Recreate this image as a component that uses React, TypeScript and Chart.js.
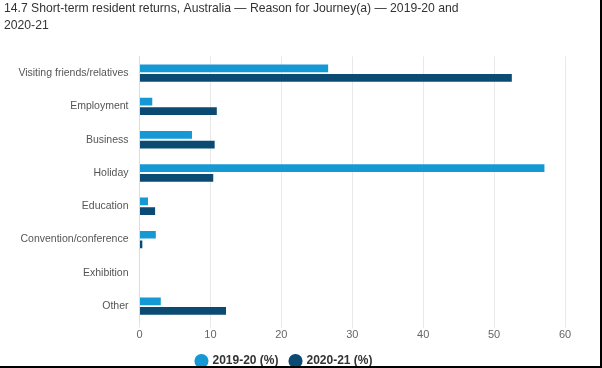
import React, { useEffect, useRef } from "react";
import { Chart, registerables } from "chart.js";

Chart.register(...registerables);

const categories = [
  "Visiting friends/relatives",
  "Employment",
  "Business",
  "Holiday",
  "Education",
  "Convention/conference",
  "Exhibition",
  "Other",
];
const series2019 = [26.6, 1.8, 7.4, 57.1, 1.2, 2.3, 0, 3.0];
const series2020 = [52.5, 10.9, 10.6, 10.4, 2.2, 0.4, 0, 12.2];
const seriesLabels = ["2019-20 (%)", "2020-21 (%)"];
const titleLines = [
  "14.7 Short-term resident returns, Australia \u2014 Reason for Journey(a) \u2014 2019-20 and",
  "2020-21",
];

const FONT = "'Liberation Sans', Arial, Helvetica, sans-serif";

export default function App() {
  const ref = useRef<HTMLCanvasElement | null>(null);
  useEffect(() => {
    document.body.style.margin = "0";
    const ctx = ref.current!;
    const chart = new Chart(ctx, {
      type: "bar",
      data: {
        labels: categories,
        datasets: [
          {
            label: seriesLabels[0],
            data: series2019,
            backgroundColor: "#1599d4",
            borderWidth: 0,
            barPercentage: 0.8,
            categoryPercentage: 0.58,
          },
          {
            label: seriesLabels[1],
            data: series2020,
            backgroundColor: "#0a4a73",
            borderWidth: 0,
            barPercentage: 0.8,
            categoryPercentage: 0.58,
          },
        ],
      },
      options: {
        indexAxis: "y",
        animation: false,
        responsive: false,
        maintainAspectRatio: false,
        layout: { padding: { left: 4, right: 37, top: 1, bottom: -9 } },
        scales: {
          x: {
            min: 0,
            max: 60,
            ticks: {
              stepSize: 10,
              color: "#666",
              font: { family: FONT, size: 11 },
              padding: 1,
            },
            grid: { color: "#e8e8e8", tickLength: 5 },
            border: { display: false },
          },
          y: {
            afterFit: (s: any) => {
              s.width = 135.5;
            },
            ticks: {
              color: "#555",
              font: { family: FONT, size: 10.5 },
              padding: 3,
            },
            grid: { display: false },
            border: { display: true, color: "#dcdcdc" },
          },
        },
        plugins: {
          title: {
            display: true,
            text: titleLines,
            align: "start",
            color: "#333",
            font: { family: FONT, size: 12.2, weight: "normal", lineHeight: 1.33 },
            padding: { top: 0, bottom: 23 },
          },
          legend: {
            position: "bottom",
            labels: {
              usePointStyle: true,
              pointStyle: "circle",
              boxWidth: 10,
              boxHeight: 10,
              color: "#333",
              font: { family: FONT, size: 12, weight: "bold" },
              padding: 12,
            },
          },
          tooltip: { enabled: false },
        },
      },
    });
    return () => chart.destroy();
  }, []);
  return (
    <div style={{ position: "fixed", left: 0, top: 0, width: 602, height: 368, background: "#fff", overflow: "hidden" }}>
      <canvas ref={ref} width={602} height={368} style={{ width: 602, height: 368, display: "block" }} />
      <div style={{ position: "absolute", right: 0, top: 0, width: 2, height: 368, background: "#000" }} />
      <div style={{ position: "absolute", left: 0, bottom: 0, width: 602, height: 2, background: "#000" }} />
    </div>
  );
}
